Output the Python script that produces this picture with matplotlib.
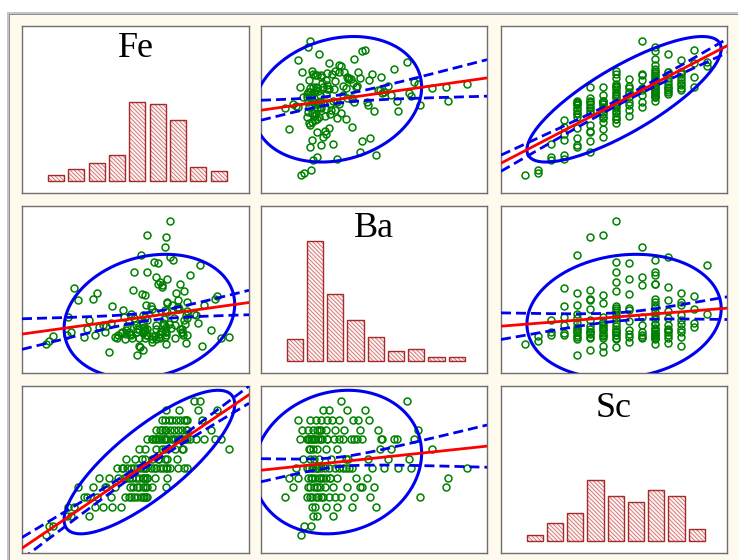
import numpy as np
import matplotlib
matplotlib.use('Agg')
import matplotlib.pyplot as plt
from matplotlib.patches import Rectangle

# sample values (one entry per sample)
fe = [1.00,
      1.08, 1.18,
      1.52, 1.62, 2.05,
      1.55, 1.70, 2.20, 2.40, 2.62, 2.85,
      1.95, 2.02, 2.25, 2.60, 2.95, 3.05, 3.18, 3.25, 3.35, 3.42, 3.48, 3.10, 3.40, 3.47,
      1.80, 2.15, 2.45, 2.70, 2.48, 3.08, 3.15, 3.28, 3.38, 3.45, 3.49, 3.25, 3.60, 3.96,
      2.30, 2.55, 2.78, 2.92, 2.97, 3.12, 3.22, 3.30, 3.40, 3.48, 3.49, 3.68, 3.45, 3.38, 3.97, 3.05,
      2.90, 2.75, 2.88, 3.00, 3.10, 3.16, 3.24, 3.32, 3.40, 3.46, 3.44, 3.58, 3.65, 3.72, 3.80, 3.88,
      3.95, 3.98, 4.06, 4.25, 4.40, 4.48,
      2.98, 3.20, 3.36, 3.45, 3.62, 3.75, 3.92, 3.98, 4.22, 3.78,
      4.35, 3.30, 3.44, 3.70, 3.85, 3.93, 4.18, 4.38, 5.50,
      3.62, 3.70, 3.90, 3.78, 3.48, 3.62, 3.68, 3.75, 3.82, 3.90, 3.96, 3.99, 4.08, 4.12, 4.18, 4.24,
      4.30, 4.36, 4.42, 4.48, 4.55, 4.70, 4.90, 5.15, 5.30,
      3.80, 3.92, 3.72, 3.85, 3.95, 4.05, 4.15, 4.25, 4.35, 4.45, 4.47, 5.05,
      3.85, 4.45, 3.92, 4.02, 4.10, 4.20, 4.30, 4.40, 4.46, 4.85,
      3.95, 4.28, 4.75, 5.20,
      4.65, 4.80]

ba = [360,
      390, 460,
      480, 520, 680,
      720, 1100, 470, 610, 860, 500,
      450, 560, 1040, 640, 420, 510, 700, 200, 1540, 580, 470, 760, 530, 880,
      940, 960, 520, 450, 600, 490, 1080, 550, 280, 430, 680, 520, 820, 1790,
      580, 240, 470, 720, 540, 430, 610, 330, 500, 560, 1810, 460, 1010, 650, 900, 650,
      810, 440, 520, 600, 470, 1320, 560, 310, 740, 480, 530, 860, 1450, 420, 1180, 640,
      510, 780, 2000, 840, 1060, 700,
      490, 660, 1020, 540, 380, 1430, 810, 1220, 830, 450,
      520, 440, 720, 1250, 1140, 1650, 610, 480, 450,
      460, 550, 620, 490, 1310, 420, 780, 1160, 530, 690, 350, 910, 570, 1480, 440, 850,
      1150, 500, 620, 470, 1280, 740, 880, 960, 430,
      430, 520, 610, 1120, 480, 1520, 700, 940, 560, 370, 790, 540,
      510, 740, 450, 620, 870, 1030, 560, 670, 920, 330,
      580, 820, 640, 990,
      760, 1410]

sc = [5,
      6, 6,
      7, 7, 7,
      8, 8, 8, 8, 8, 8,
      9, 9, 9, 9, 9, 9, 9, 9, 9, 9, 9, 9, 9, 9,
      10, 10, 10, 10, 10, 10, 10, 10, 10, 10, 10, 10, 10, 10,
      11, 11, 11, 11, 11, 11, 11, 11, 11, 11, 11, 11, 11, 11, 11, 11,
      12, 12, 12, 12, 12, 12, 12, 12, 12, 12, 12, 12, 12, 12, 12, 12,
      12, 12, 12, 12, 12, 12,
      13, 13, 13, 13, 13, 13, 13, 13, 13, 13,
      14, 14, 14, 14, 14, 14, 14, 14, 14,
      15, 15, 15, 15, 15, 15, 15, 15, 15, 15, 15, 15, 15, 15, 15, 15,
      15, 15, 15, 15, 15, 15, 15, 15, 15,
      16, 16, 16, 16, 16, 16, 16, 16, 16, 16, 16, 16,
      17, 17, 17, 17, 17, 17, 17, 17, 17, 17,
      18, 18, 18, 18,
      19, 19]

names = ['Fe', 'Ba', 'Sc']

W, H = 738, 560
cols = [(22, 249), (261, 487), (501, 727)]
rows = [(26, 193), (206, 373), (386, 553)]

fig = plt.figure(figsize=(W / 100, H / 100), dpi=100, facecolor='white')


def fig_rect(x0, y0, x1, y1, color):
    fig.add_artist(Rectangle((x0 / W, 1 - y1 / H), (x1 - x0) / W, (y1 - y0) / H,
                             transform=fig.transFigure, facecolor=color,
                             edgecolor='none', zorder=-5))


# window frame
fig_rect(7, 12, W + 5, H + 5, '#c4c4c4')
fig_rect(8.5, 13.5, W + 5, H + 5, '#8e8e8e')
fig_rect(10, 15, W + 5, H + 5, '#fffaee')

data = [np.array(fe, float), np.array(ba, float), np.array(sc, float)]


def limits(v):
    lo, hi = v.min(), v.max()
    r = hi - lo
    return lo - 0.13 * r, hi + 0.11 * r


lims = [limits(v) for v in data]
n = len(fe)
t95 = 1.976
chi95 = 5.991

plt.rcParams['hatch.linewidth'] = 0.6

for i in range(3):
    for j in range(3):
        x0, x1 = cols[j]
        y0, y1 = rows[i]
        ax = fig.add_axes([x0 / W, 1 - y1 / H, (x1 - x0) / W, (y1 - y0) / H])
        ax.set_facecolor('white')
        ax.set_xticks([])
        ax.set_yticks([])
        for s in ax.spines.values():
            s.set_color('#6e6e6e')
            s.set_linewidth(1.0)

        if i == j:
            v = data[i]
            counts, edges = np.histogram(v, bins=9)
            centers = (edges[:-1] + edges[1:]) / 2
            width = 0.8 * (edges[1] - edges[0])
            # hatch in light red, outline in darker red
            ax.bar(centers, counts, width, facecolor='#fdf3f3', edgecolor='#cf6a6a',
                   hatch='\\\\\\\\\\\\\\\\', linewidth=0)
            ax.bar(centers, counts, width, facecolor='none', edgecolor='#a52a2a',
                   linewidth=1.0)
            ax.set_xlim(*lims[i])
            ax.set_ylim(-5.9, 76.4)
            ax.text(0.5, 0.965, names[i], transform=ax.transAxes, ha='center', va='top',
                    fontsize=26, family='Liberation Serif')
            continue

        x = data[j]
        y = data[i]
        ax.plot(x, y, 'o', mfc='none', mec='#008000', ms=5.0, mew=1.1, zorder=2)

        # 95% normal ellipse
        mean = np.array([x.mean(), y.mean()])
        L = np.linalg.cholesky(np.cov(x, y))
        t = np.linspace(0, 2 * np.pi, 300)
        ell = mean[:, None] + np.sqrt(chi95) * L @ np.vstack([np.cos(t), np.sin(t)])
        ax.plot(ell[0], ell[1], color='#0000f0', lw=2.2, zorder=3)

        # least squares line with 95% confidence band
        b, a = np.polyfit(x, y, 1)
        xs = np.linspace(lims[j][0], lims[j][1], 200)
        yhat = a + b * xs
        resid = y - (a + b * x)
        s = np.sqrt(np.sum(resid ** 2) / (n - 2))
        sxx = np.sum((x - x.mean()) ** 2)
        half = t95 * s * np.sqrt(1 / n + (xs - x.mean()) ** 2 / sxx)
        for sign in (-1, 1):
            ax.plot(xs, yhat + sign * half, color='#0000f0', lw=2.0,
                    dashes=(3.6, 1.8), zorder=3)
        ax.plot(xs, yhat, color='#ff0000', lw=2.0, zorder=4)

        ax.set_xlim(*lims[j])
        ax.set_ylim(*lims[i])

fig.savefig('out.png', dpi=100, facecolor=fig.get_facecolor())
